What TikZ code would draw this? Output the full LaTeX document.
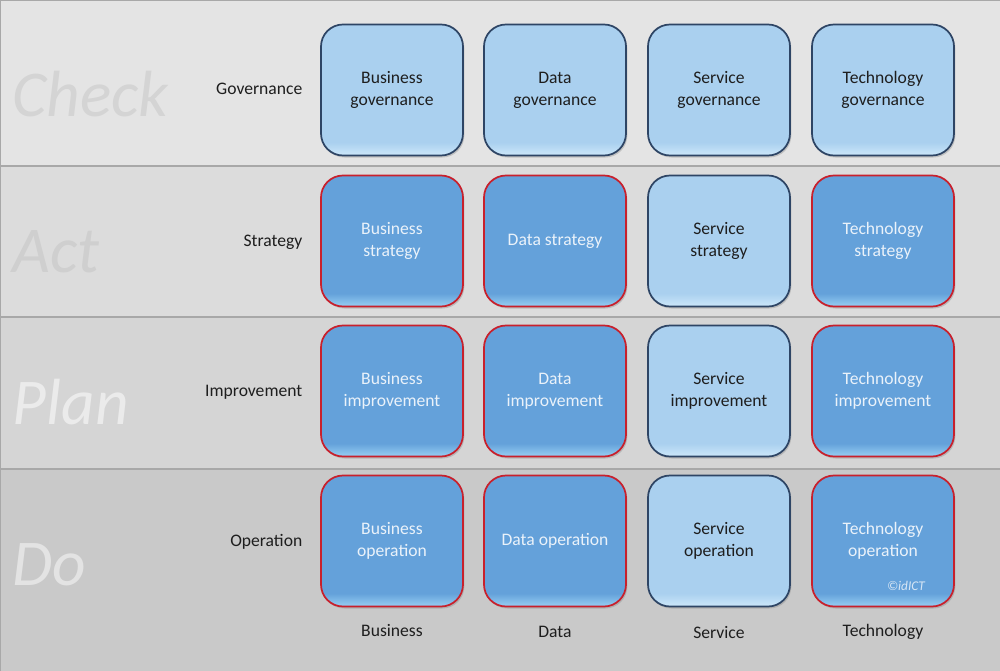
\documentclass[tikz,border=0pt]{standalone}
\usepackage{fontspec}
\setmainfont{Carlito}
\usetikzlibrary{shadows}
\definecolor{bandA}{HTML}{E4E4E4}
\definecolor{bandB}{HTML}{DCDCDC}
\definecolor{bandC}{HTML}{D5D5D5}
\definecolor{bandD}{HTML}{C9C9C9}
\definecolor{sepline}{HTML}{A8A8A8}
\definecolor{lightfill}{HTML}{AAD0EF}
\definecolor{lightfillbot}{HTML}{C6E3F8}
\definecolor{darkfill}{HTML}{64A1DA}
\definecolor{darkfillbot}{HTML}{8EC6EE}
\definecolor{navyline}{HTML}{2E4565}
\definecolor{redline}{HTML}{C8202C}
\definecolor{darktext}{HTML}{1E1E1E}
\definecolor{whitetext}{HTML}{EAF2FA}
\pgfdeclareverticalshading{lightgloss}{100bp}{color(0bp)=(lightfillbot); color(26bp)=(lightfillbot); color(30bp)=(lightfill); color(100bp)=(lightfill)}
\pgfdeclareverticalshading{darkgloss}{100bp}{color(0bp)=(darkfillbot); color(26bp)=(darkfillbot); color(30bp)=(darkfill); color(100bp)=(darkfill)}
\tikzset{
  boxbase/.style={line width=1.3pt, rounded corners=16.5pt,
    minimum width=106.5pt, minimum height=98.25pt, align=center,
    font=\fontsize{13.2pt}{16.5pt}\selectfont,
    drop shadow={shadow xshift=1pt, shadow yshift=-1.5pt, opacity=0.35}},
  lightbox/.style={boxbase, draw=navyline, shading=lightgloss, text=darktext},
  darkbox/.style={boxbase, draw=redline, shading=darkgloss, text=whitetext},
  rowlabel/.style={anchor=east, text=darktext, font=\fontsize{13.2pt}{16pt}\selectfont},
  collabel/.style={anchor=center, text=darktext, font=\fontsize{13.2pt}{16pt}\selectfont},
  phase/.style={anchor=base west, font=\fontsize{49pt}{56pt}\selectfont\itshape}
}
\begin{document}
\begin{tikzpicture}[x=0.75pt,y=-0.75pt]
\useasboundingbox (0,0) rectangle (1000,671);
% bands
\fill[bandA] (0,0) rectangle (1000,166);
\fill[bandB] (0,166) rectangle (1000,317);
\fill[bandC] (0,317) rectangle (1000,469);
\fill[bandD] (0,469) rectangle (1000,671);
\draw[sepline, line width=0.9pt] (0,166) -- (1000,166);
\draw[sepline, line width=0.9pt] (0,317) -- (1000,317);
\draw[sepline, line width=0.9pt] (0,469) -- (1000,469);
\draw[sepline, line width=1pt] (0.5,671) -- (0.5,0.5) -- (1000,0.5);
% phase labels
\node[phase, text=black!17] (check) at (8,116) {Check};
\node[phase, text=black!19] (act) at (8,272) {Act};
\node[phase, text=black!8] (plan) at (8,424) {Plan};
\node[phase, text=black!11] (do) at (8,585) {Do};
% row labels
\node[rowlabel] (lgov) at (307,89) {Governance};
\node[rowlabel] (lstr) at (307,242) {Strategy};
\node[rowlabel] (limp) at (307,392) {Improvement};
\node[rowlabel] (lope) at (307,542) {Operation};
% column labels
\node[collabel] (cbus) at (392,631) {Business};
\node[collabel] (cdat) at (555,632) {Data};
\node[collabel] (cser) at (719,632) {Service};
\node[collabel] (ctec) at (883,632) {Technology};
% governance row
\node[lightbox] (bg) at (392,90) {Business\\governance};
\node[lightbox] (dg) at (555,90) {Data\\governance};
\node[lightbox] (sg) at (719,90) {Service\\governance};
\node[lightbox] (tg) at (883,90) {Technology\\governance};
% strategy row
\node[darkbox] (bs) at (392,241) {Business\\strategy};
\node[darkbox] (ds) at (555,241) {Data strategy};
\node[lightbox] (ss) at (719,241) {Service\\strategy};
\node[darkbox] (ts) at (883,241) {Technology\\strategy};
% improvement row
\node[darkbox] (bi) at (392,391) {Business\\improvement};
\node[darkbox] (di) at (555,391) {Data\\improvement};
\node[lightbox] (si) at (719,391) {Service\\improvement};
\node[darkbox] (ti) at (883,391) {Technology\\improvement};
% operation row
\node[darkbox] (bo) at (392,541) {Business\\operation};
\node[darkbox] (do2) at (555,541) {Data operation};
\node[lightbox] (so) at (719,541) {Service\\operation};
\node[darkbox] (to) at (883,541) {Technology\\operation};
\node[text=whitetext!85!darkfill, font=\fontsize{10pt}{11pt}\selectfont\itshape] (copy) at (906,586) {©idICT};
\end{tikzpicture}
\end{document}
